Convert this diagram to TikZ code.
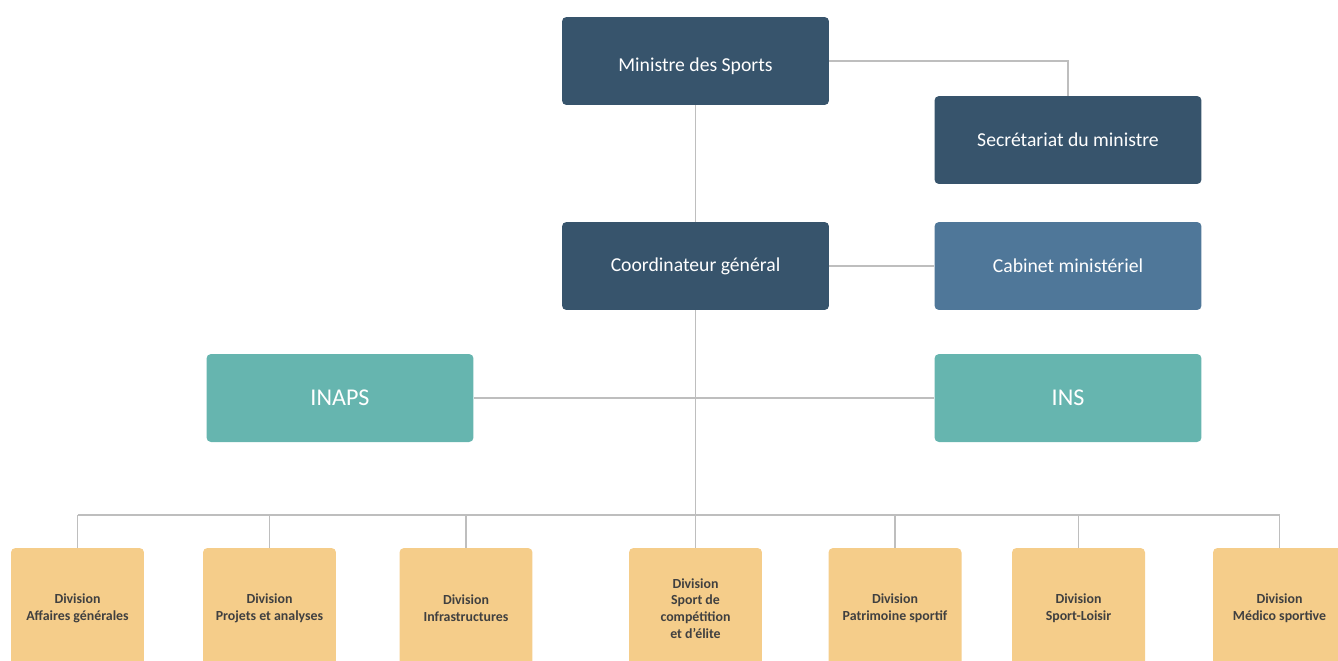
\documentclass[tikz,border=0pt]{standalone}
\usepackage{fontspec}
\setmainfont{Carlito}
\definecolor{navy}{HTML}{37546C}
\definecolor{steel}{HTML}{4F7799}
\definecolor{teal}{HTML}{66B5AF}
\definecolor{sand}{HTML}{F5CD8A}
\definecolor{ink}{HTML}{404040}
\definecolor{wire}{HTML}{BEBEBE}
\begin{document}
\begin{tikzpicture}[x=0.02cm,y=-0.02cm,
 box/.style={rectangle,rounded corners=2.5pt,minimum width=5.34cm,minimum height=1.76cm,text=white,font=\fontsize{11.2}{13.4}\selectfont},
 bigbox/.style={box,fill=teal,font=\fontsize{13.7}{16}\selectfont},
 division/.style={rectangle,rounded corners=2.5pt,minimum width=2.66cm,minimum height=2.42cm,fill=sand,text=ink,align=center,font=\fontsize{7.9}{9.6}\selectfont\bfseries},
 wire/.style={draw=wire,line width=0.6pt}]
 \useasboundingbox (0,0) rectangle (1338,660);
 \clip (0,0) rectangle (1338,660);
 \node[box,fill=navy,text height=13.5pt] (ministre) at (695.5,61) {Ministre des Sports};
 \node[box,fill=navy] (secretariat) at (1068,140) {Secrétariat du ministre};
 \node[box,fill=navy] (coordinateur) at (695.5,266) {Coordinateur général};
 \node[box,fill=steel] (cabinet) at (1068,266) {Cabinet ministériel};
 \node[bigbox] (inaps) at (340,398) {INAPS};
 \node[bigbox] (ins) at (1068,398) {INS};
 \node[division] (affaires) at (77.5,608.5) {Division\\Affaires générales};
 \node[division] (projets) at (269.5,608.5) {Division\\Projets et analyses};
 \node[division] (infra) at (466,608.5) {Division\\Infrastructures};
 \node[division] (elite) at (695.5,608.5) {Division\\Sport de\\compétition\\et d’élite};
 \node[division] (patrimoine) at (895,608.5) {Division\\Patrimoine sportif};
 \node[division] (loisir) at (1078.5,608.5) {Division\\Sport-Loisir};
 \node[division] (medico) at (1279.5,608.5) {Division\\Médico sportive};
 \coordinate (bus) at (695.5,515);
 \draw[wire] (ministre.east) -- (ministre.east -| secretariat.north) -- (secretariat.north);
 \draw[wire] (ministre.south) -- (coordinateur.north);
 \draw[wire] (coordinateur.east) -- (cabinet.west);
 \draw[wire] (inaps.east) -- (ins.west);
 \draw[wire] (coordinateur.south) -- (elite.north);
 \draw[wire] (affaires.north |- bus) -- (medico.north |- bus);
 \draw[wire] (affaires.north |- bus) -- (affaires.north);
 \draw[wire] (projets.north |- bus) -- (projets.north);
 \draw[wire] (infra.north |- bus) -- (infra.north);
 \draw[wire] (patrimoine.north |- bus) -- (patrimoine.north);
 \draw[wire] (loisir.north |- bus) -- (loisir.north);
 \draw[wire] (medico.north |- bus) -- (medico.north);
\end{tikzpicture}
\end{document}
